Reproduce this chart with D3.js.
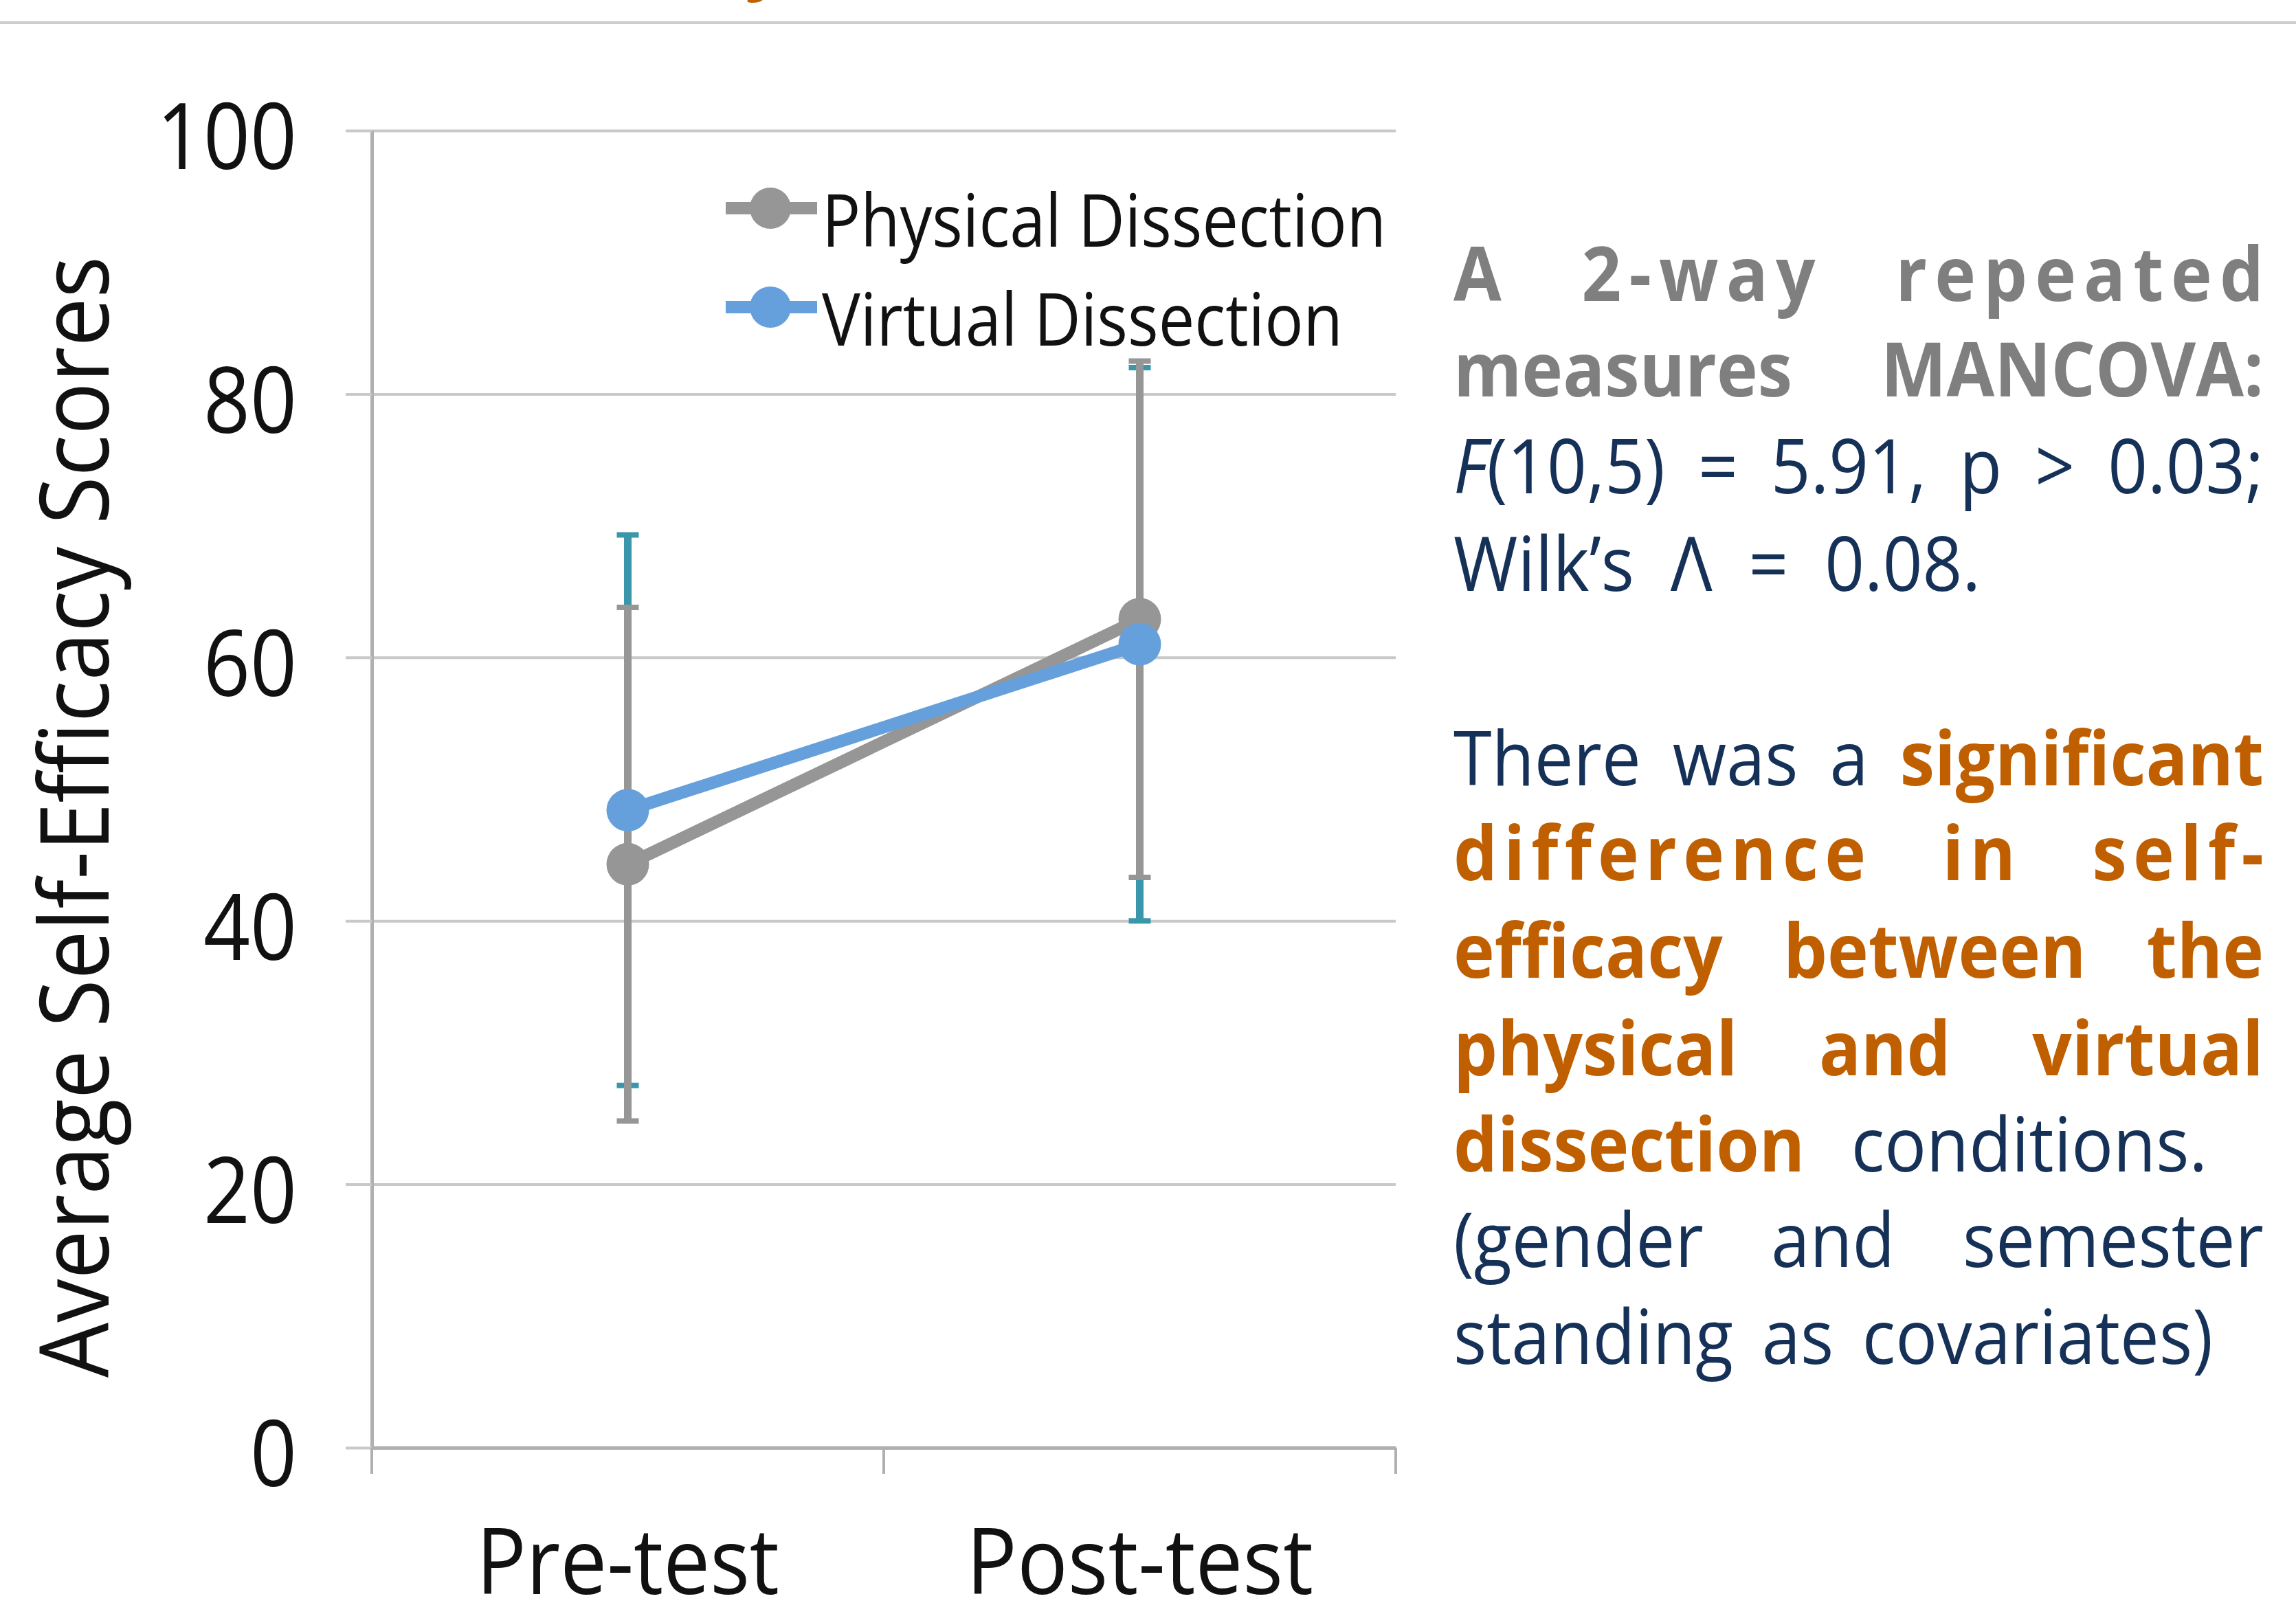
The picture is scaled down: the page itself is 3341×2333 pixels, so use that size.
<!DOCTYPE html>
<html><head><meta charset="utf-8">
<script src="https://cdn.jsdelivr.net/npm/d3@7"></script>
<style>
body{margin:0;background:#fff;}
svg{display:block;}
text{font-family:"Open Sans",sans-serif;}
</style></head>
<body>
<svg id="chart" width="3341" height="2333"></svg>
<script>
// ---------------- data ----------------
const categories = ["Pre-test", "Post-test"];
const seriesNames = ["Physical Dissection", "Virtual Dissection"];
const physicalMeans = [44.3, 62.9];
const physicalErr = [19.5, 19.6];
const virtualMeans = [48.4, 61.0];
const virtualErr = [20.9, 21.0];
const yTicks = [0, 20, 40, 60, 80, 100];
const yTitle = "Average Self-Efficacy Scores";

// right-hand text: words made of [text, style] segments
const para1Lines = [
  [[["A","gb"]],[["2-way","gb"]],[["repeated","gb"]]],
  [[["measures","gb"]],[["MANCOVA:","gb"]]],
  [[["F","ni"],["(10,5)","n"]],[["=","n"]],[["5.91,","n"]],[["p","n"]],[[">","n"]],[["0.03;","n"]]],
  [[["Wilk\u2019s","n"]],[["\u039B","n"]],[["=","n"]],[["0.08.","n"]]]
];
const para2Lines = [
  [[["There","n"]],[["was","n"]],[["a","n"]],[["significant","ob"]]],
  [[["difference","ob"]],[["in","ob"]],[["self-","ob"]]],
  [[["efficacy","ob"]],[["between","ob"]],[["the","ob"]]],
  [[["physical","ob"]],[["and","ob"]],[["virtual","ob"]]],
  [[["dissection","ob"]],[["conditions.","n"]]],
  [[["(gender","n"]],[["and","n"]],[["semester","n"]]],
  [[["standing","n"]],[["as","n"]],[["covariates)","n"]]]
];

// ---------------- layout ----------------
const svg = d3.select("#chart");
const W = 3341, H = 2333;
const plot = {left: 541, right: 2031, top: 190, bottom: 2107};

const x = d3.scaleBand().domain(categories).range([plot.left, plot.right]).padding(0);
const y = d3.scaleLinear().domain([0, 100]).range([plot.bottom, plot.top]);
const cx = d => x(d) + x.bandwidth() / 2;

const GRID = "#c9c9c9", AXIS = "#b0b0b0";
const GRAY = "#969696", BLUE = "#65a0dc", TEAL = "#3a97ab";

// top rule + clipped title fragment
svg.append("line").attr("x1", 0).attr("x2", W).attr("y1", 33).attr("y2", 33)
  .attr("stroke", "#cccccc").attr("stroke-width", 4);
svg.append("text").attr("x", 1084).attr("y", -22).attr("font-size", 110)
  .attr("font-weight", 700).attr("fill", "#bf5f00").text("y");

// gridlines
const gridAxis = d3.axisLeft(y).tickValues(yTicks).tickSize(-(plot.right - plot.left)).tickFormat("");
const gg = svg.append("g").attr("transform", `translate(${plot.left},0)`).call(gridAxis);
gg.select(".domain").remove();
gg.selectAll(".tick line").attr("stroke", GRID).attr("stroke-width", 4);

// y axis with labels
const yAxis = d3.axisLeft(y).tickValues(yTicks).tickSize(38).tickSizeOuter(0).tickPadding(71);
const ya = svg.append("g").attr("transform", `translate(${plot.left},0)`).call(yAxis);
ya.select(".domain").attr("stroke", AXIS).attr("stroke-width", 5);
ya.selectAll(".tick line").attr("stroke", GRID).attr("stroke-width", 4);
ya.selectAll(".tick text")
  .attr("font-family", "'Open Sans', sans-serif")
  .attr("font-size", 133).attr("fill", "#111").attr("dy", "0.42em")
  .attr("textLength", d => String(d).length * 68).attr("lengthAdjust", "spacingAndGlyphs");

// x axis (line at 0, boundary ticks, labels)
const xa = svg.append("g").attr("transform", `translate(0,${plot.bottom})`)
  .call(d3.axisBottom(x).tickSize(0).tickPadding(118));
xa.select(".domain").attr("stroke", AXIS).attr("stroke-width", 5);
const xLabelW = {"Pre-test": 441, "Post-test": 505};
xa.selectAll(".tick text")
  .attr("font-family", "'Open Sans', sans-serif")
  .attr("font-size", 134).attr("fill", "#111")
  .attr("textLength", d => xLabelW[d]).attr("lengthAdjust", "spacingAndGlyphs");
const boundaries = categories.map(c => x(c)).concat([x(categories[categories.length - 1]) + x.bandwidth()]);
svg.append("g").selectAll("line").data(boundaries).join("line")
  .attr("x1", d => d).attr("x2", d => d)
  .attr("y1", plot.bottom).attr("y2", plot.bottom + 38)
  .attr("stroke", AXIS).attr("stroke-width", 4);

// y axis title
svg.append("text")
  .attr("transform", `translate(158,${(373 + 2005) / 2}) rotate(-90)`)
  .attr("text-anchor", "middle").attr("font-size", 139).attr("fill", "#111")
  .attr("textLength", 1632).attr("lengthAdjust", "spacingAndGlyphs")
  .text(yTitle);

// ---------------- series ----------------
const series = [
  {name: seriesNames[0], means: physicalMeans, err: physicalErr, color: GRAY, errColor: GRAY},
  {name: seriesNames[1], means: virtualMeans, err: virtualErr, color: BLUE, errColor: TEAL}
];

function drawErrors(s) {
  const g = svg.append("g");
  const data = categories.map((c, i) => ({c, lo: s.means[i] - s.err[i], hi: s.means[i] + s.err[i]}));
  g.selectAll("line.bar").data(data).join("line").attr("class", "bar")
    .attr("x1", d => cx(d.c)).attr("x2", d => cx(d.c))
    .attr("y1", d => y(d.lo)).attr("y2", d => y(d.hi))
    .attr("stroke", s.errColor).attr("stroke-width", 11);
  const caps = data.flatMap(d => [{c: d.c, v: d.lo}, {c: d.c, v: d.hi}]);
  g.selectAll("line.cap").data(caps).join("line").attr("class", "cap")
    .attr("x1", d => cx(d.c) - 16).attr("x2", d => cx(d.c) + 16)
    .attr("y1", d => y(d.v)).attr("y2", d => y(d.v))
    .attr("stroke", s.errColor).attr("stroke-width", 8);
}
function drawSeries(s) {
  const g = svg.append("g");
  const pts = categories.map((c, i) => ({c, v: s.means[i]}));
  g.append("path").datum(pts)
    .attr("d", d3.line().x(d => cx(d.c)).y(d => y(d.v)))
    .attr("fill", "none").attr("stroke", s.color).attr("stroke-width", 18);
  g.selectAll("circle").data(pts).join("circle")
    .attr("cx", d => cx(d.c)).attr("cy", d => y(d.v)).attr("r", 31)
    .attr("fill", s.color);
}
drawErrors(series[1]);
drawErrors(series[0]);
drawSeries(series[0]);
drawSeries(series[1]);

// ---------------- legend ----------------
const legendY = [303, 447];
const legendTextW = [821, 758];
const lg = svg.append("g");
series.forEach((s, i) => {
  lg.append("line").attr("x1", 1056).attr("x2", 1189).attr("y1", legendY[i]).attr("y2", legendY[i])
    .attr("stroke", s.color).attr("stroke-width", 18);
  lg.append("circle").attr("cx", 1121).attr("cy", legendY[i]).attr("r", 30).attr("fill", s.color);
  lg.append("text").attr("x", 1196).attr("y", legendY[i] + 56)
    .attr("font-size", 106).attr("fill", "#111")
    .attr("textLength", legendTextW[i]).attr("lengthAdjust", "spacingAndGlyphs")
    .text(s.name);
});

// ---------------- right text block ----------------
const styles = {
  gb: {fill: "#7f7f7f", weight: 700, italic: false},
  n:  {fill: "#163158", weight: 400, italic: false},
  ni: {fill: "#163158", weight: 400, italic: true},
  ob: {fill: "#bf5f00", weight: 700, italic: false}
};
const FS = 110, SX = 0.92, X0 = 2115, X1FULL = 3294;
const tg = svg.append("g");
function layoutLine(words, baseline, x1, ls) {
  const els = words.map(word => {
    const t = tg.append("text").attr("font-size", FS).attr("y", 0);
    if (ls) t.attr("letter-spacing", ls);
    word.forEach(([txt, st]) => {
      const s = styles[st];
      t.append("tspan").text(txt).attr("fill", s.fill).attr("font-weight", s.weight)
        .attr("font-style", s.italic ? "italic" : "normal");
    });
    const w = t.node().getComputedTextLength() - (ls || 0);
    return {t, w: w * SX};
  });
  const total = d3.sum(els, e => e.w);
  const gap = els.length > 1 ? (x1 - X0 - total) / (els.length - 1) : 0;
  let cur = X0;
  els.forEach(e => {
    e.t.attr("transform", `translate(${cur},${baseline}) scale(${SX},1)`);
    cur += e.w + gap;
  });
}
const p1Base = [438, 577, 718, 860];
const p1Right = [X1FULL, X1FULL, X1FULL, 2882];
const p1LS = [12, 0, 0, 0];
para1Lines.forEach((ln, i) => layoutLine(ln, p1Base[i], p1Right[i], p1LS[i]));
const p2Base = [1143, 1281, 1423, 1565, 1705, 1844, 1985];
const p2Right = [X1FULL, X1FULL, X1FULL, X1FULL, 3212, X1FULL, 3220];
const p2LS = [0, 10, 0, 0, 0, 0, 0];
para2Lines.forEach((ln, i) => layoutLine(ln, p2Base[i], p2Right[i], p2LS[i]));
</script>
</body></html>
